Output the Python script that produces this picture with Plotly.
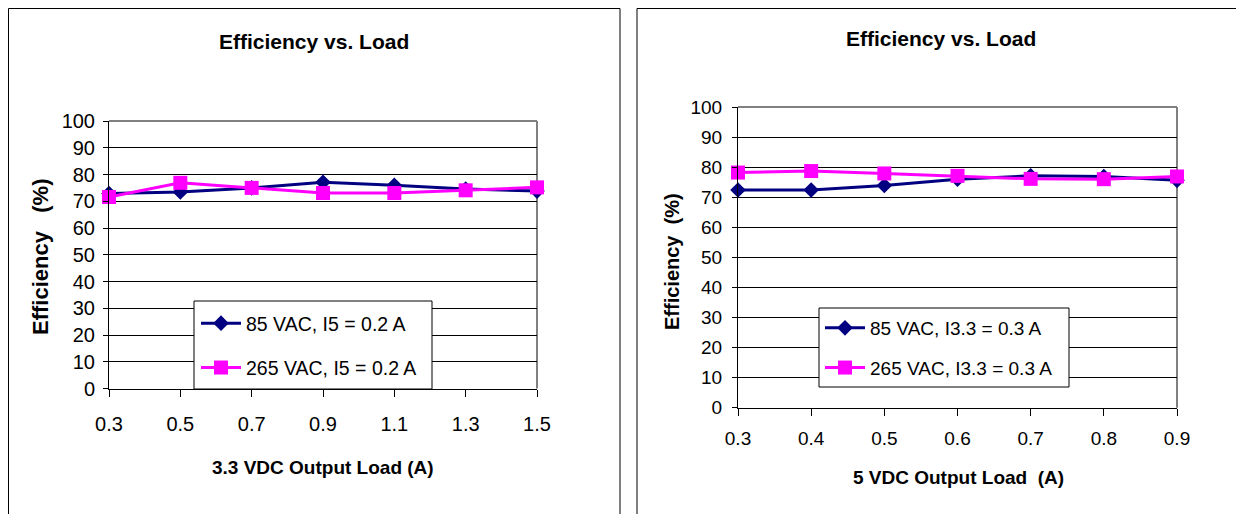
import plotly.graph_objects as go

# ---------------- data ----------------
load_33 = [0.3, 0.5, 0.7, 0.9, 1.1, 1.3, 1.5]
load_33_labels = ["0.3", "0.5", "0.7", "0.9", "1.1", "1.3", "1.5"]
eff_85_33 = [72.9, 73.5, 75.0, 77.1, 76.0, 74.6, 73.8]
eff_265_33 = [71.6, 76.9, 75.0, 73.1, 73.1, 74.1, 75.2]

load_5 = [0.3, 0.4, 0.5, 0.6, 0.7, 0.8, 0.9]
load_5_labels = ["0.3", "0.4", "0.5", "0.6", "0.7", "0.8", "0.9"]
eff_85_5 = [72.4, 72.4, 73.9, 76.0, 77.1, 76.9, 75.6]
eff_265_5 = [78.2, 78.7, 77.9, 77.1, 76.1, 76.0, 76.9]

y_ticks = [0, 10, 20, 30, 40, 50, 60, 70, 80, 90, 100]
y_grid = [10, 20, 30, 40, 50, 60, 70, 80, 90]

names_left = ["85 VAC, I5 = 0.2 A", "265 VAC, I5 = 0.2 A"]
names_right = ["85 VAC, I3.3 = 0.3 A", "265 VAC, I3.3 = 0.3 A"]

# ---------------- layout helpers ----------------
W, H = 1244, 514
OFF = 8  # page body margin


def px(x):
    return (x - OFF) / W


def py(y):
    return 1 - (y - OFF) / H


NAVY = "#000080"
MAGENTA = "#FF00FF"
ARIAL = "Liberation Sans, Arial, sans-serif"

fig = go.Figure()

# left chart
fig.add_trace(go.Scatter(x=load_33, y=eff_85_33, name=names_left[0], mode="lines+markers",
                         line=dict(color=NAVY, width=3),
                         marker=dict(symbol="diamond", size=12, color=NAVY),
                         xaxis="x", yaxis="y", legend="legend", legendgroup="a",
                         cliponaxis=False))
fig.add_trace(go.Scatter(x=load_33, y=eff_265_33, name=names_left[1], mode="lines+markers",
                         line=dict(color=MAGENTA, width=3),
                         marker=dict(symbol="square", size=14, color=MAGENTA),
                         xaxis="x", yaxis="y", legend="legend", legendgroup="b",
                         cliponaxis=False))
# right chart
fig.add_trace(go.Scatter(x=load_5, y=eff_85_5, name=names_right[0], mode="lines+markers",
                         line=dict(color=NAVY, width=3),
                         marker=dict(symbol="diamond", size=12, color=NAVY),
                         xaxis="x2", yaxis="y2", legend="legend2", legendgroup="c",
                         cliponaxis=False))
fig.add_trace(go.Scatter(x=load_5, y=eff_265_5, name=names_right[1], mode="lines+markers",
                         line=dict(color=MAGENTA, width=3),
                         marker=dict(symbol="square", size=14, color=MAGENTA),
                         xaxis="x2", yaxis="y2", legend="legend2", legendgroup="d",
                         cliponaxis=False))

common_x = dict(showgrid=False, zeroline=False, showline=True, linecolor="black", linewidth=1,
                ticks="outside", ticklen=7, tickcolor="black", tickwidth=1, automargin=False)
common_y = dict(range=[0, 100], tickvals=y_ticks, showgrid=False,
                minor=dict(tickvals=y_grid, showgrid=True, gridcolor="black", gridwidth=1, ticks=""),
                zeroline=False, showline=True, linecolor="black", linewidth=1,
                ticks="outside", ticklen=5, tickcolor="black", tickwidth=1, automargin=False)

fig.update_layout(
    width=W, height=H, autosize=False,
    margin=dict(l=0, r=0, t=0, b=0, pad=0, autoexpand=False),
    paper_bgcolor="white", plot_bgcolor="white",
    showlegend=True,
    xaxis=dict(domain=[px(109), px(537)], range=[0.3, 1.5], tickvals=load_33, ticktext=load_33_labels,
               tickfont=dict(family=ARIAL, size=20, color="black"), ticklabelstandoff=10,
               anchor="y", **common_x),
    yaxis=dict(domain=[py(388.6), py(121)], tickfont=dict(family=ARIAL, size=20, color="black"),
               ticklabelstandoff=4, anchor="x", **common_y),
    xaxis2=dict(domain=[px(738), px(1177)], range=[0.3, 0.9], tickvals=load_5, ticktext=load_5_labels,
                tickfont=dict(family=ARIAL, size=19, color="black"), ticklabelstandoff=6,
                anchor="y2", **common_x),
    yaxis2=dict(domain=[py(407.7), py(107)], tickfont=dict(family=ARIAL, size=19, color="black"),
                ticklabelstandoff=6, anchor="x2", **common_y),
    legend=dict(x=px(196), y=py(304), xanchor="left", yanchor="top",
                bgcolor="rgba(0,0,0,0)", borderwidth=0,
                font=dict(family=ARIAL, size=19.5, color="black"),
                traceorder="grouped", tracegroupgap=16, itemwidth=40),
    legend2=dict(x=px(820), y=py(309), xanchor="left", yanchor="top",
                 bgcolor="rgba(0,0,0,0)", borderwidth=0,
                 font=dict(family=ARIAL, size=19, color="black"),
                 traceorder="grouped", tracegroupgap=12, itemwidth=40),
)

# gray plot-area frame edges (top and right)
for xr, yr in (("x", "y"), ("x2", "y2")):
    fig.add_shape(type="line", xref=f"{xr} domain", yref=f"{yr} domain", x0=0, x1=1, y0=1, y1=1,
                  line=dict(color="#808080", width=2), layer="below")
    fig.add_shape(type="line", xref=f"{xr} domain", yref=f"{yr} domain", x0=1, x1=1, y0=0, y1=1,
                  line=dict(color="#808080", width=2), layer="below")

# legend boxes
for (x0, y0, x1, y1) in ((194, 301, 432, 389), (819, 308, 1069, 387)):
    fig.add_shape(type="rect", xref="paper", yref="paper", x0=px(x0), y0=py(y1), x1=px(x1), y1=py(y0),
                  line=dict(color="black", width=1), fillcolor="white", layer="above")

# panel borders (left, top, right sides; bottom is off-page)
EDGE = OFF + 0.5
for left, right, top in ((EDGE, 620, EDGE), (637, 1239, EDGE)):
    for (xa, ya, xb, yb) in ((left, top, right, top), (left, top, left, H + OFF), (right, top, right, H + OFF)):
        fig.add_shape(type="line", xref="paper", yref="paper",
                      x0=px(xa), y0=py(ya), x1=px(xb), y1=py(yb),
                      line=dict(color="black", width=1), layer="above")


# titles
def ann(text, x, y, size, angle=0):
    fig.add_annotation(text=f"<b>{text}</b>", x=px(x), y=py(y), xref="paper", yref="paper",
                       showarrow=False, xanchor="center", yanchor="middle", textangle=angle,
                       font=dict(family=ARIAL, size=size, color="black"))


ann("Efficiency vs. Load", 314, 42, 21)
ann("3.3 VDC Output Load (A)", 323, 467, 19)
ann("Efficiency   (%)", 40, 257, 22, angle=-90)

ann("Efficiency vs. Load", 941, 38, 21)
ann("5 VDC Output Load  (A)", 958, 477, 19)
ann("Efficiency  (%)", 672, 262, 20, angle=-90)

fig.write_html("out.html")
